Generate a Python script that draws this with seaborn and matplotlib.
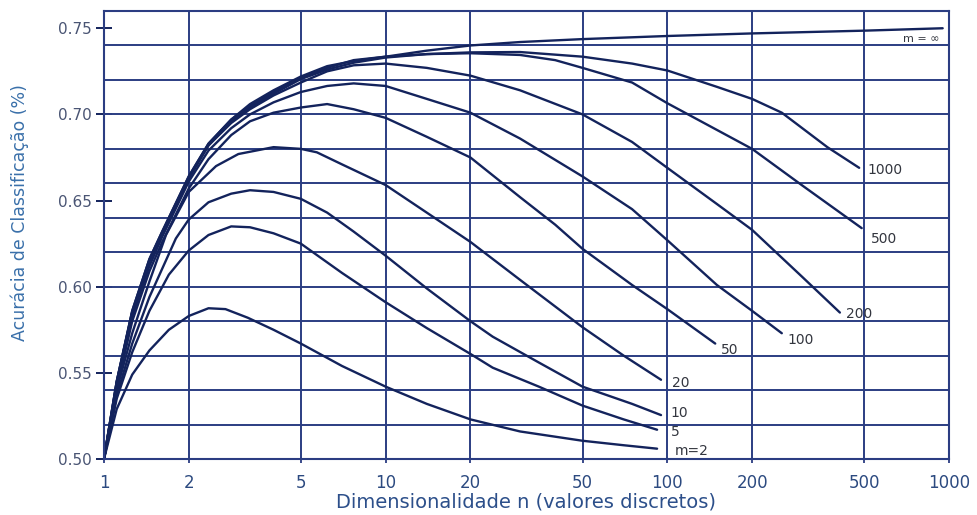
import matplotlib
matplotlib.use("Agg")
import matplotlib.pyplot as plt
from matplotlib.ticker import FixedLocator, FixedFormatter, NullLocator
import numpy as np
import pandas as pd
import seaborn as sns

# Classification accuracy versus dimensionality n for several training-set sizes m
n_inf = [1, 1.11, 1.26, 1.45, 1.61, 2, 2.35, 2.83, 3.3, 4, 5, 6.2, 7.7, 10, 14, 20, 30, 50, 100, 200, 500, 950]
acc_inf = [0.500, 0.545, 0.586, 0.616, 0.632, 0.664, 0.683, 0.697, 0.706, 0.714, 0.722, 0.728, 0.731,
           0.7335, 0.737, 0.740, 0.742, 0.7437, 0.7455, 0.747, 0.7486, 0.750]

n_m1000 = [1, 1.11, 1.26, 1.45, 1.61, 2, 2.35, 2.83, 3.3, 4, 5, 6.2, 7.7, 10, 14, 20, 30, 50, 75, 100,
           150, 200, 255, 370, 480]
acc_m1000 = [0.500, 0.545, 0.586, 0.616, 0.632, 0.664, 0.683, 0.697, 0.705, 0.713, 0.721, 0.727, 0.7315,
             0.7335, 0.735, 0.736, 0.7362, 0.7335, 0.7295, 0.7255, 0.716, 0.709, 0.701, 0.681, 0.669]

n_m500 = [1, 1.11, 1.26, 1.45, 1.61, 2, 2.35, 2.83, 3.3, 4, 5, 6.2, 7.7, 10, 14, 20, 30, 40, 50, 75, 100,
          150, 200, 300, 490]
acc_m500 = [0.500, 0.545, 0.585, 0.615, 0.631, 0.663, 0.682, 0.696, 0.704, 0.712, 0.7205, 0.726, 0.730,
            0.733, 0.735, 0.7355, 0.7345, 0.7315, 0.727, 0.7185, 0.7065, 0.691, 0.680, 0.659, 0.634]

n_m200 = [1, 1.11, 1.26, 1.45, 1.61, 2, 2.35, 2.83, 3.3, 4, 5, 6.2, 7.7, 10, 14, 20, 30, 50, 75, 100,
          150, 200, 300, 410]
acc_m200 = [0.500, 0.544, 0.585, 0.615, 0.631, 0.663, 0.682, 0.695, 0.703, 0.711, 0.7185, 0.725, 0.7285,
            0.7295, 0.727, 0.7225, 0.714, 0.700, 0.684, 0.669, 0.648, 0.633, 0.606, 0.585]

n_m100 = [1, 1.11, 1.26, 1.45, 1.61, 2, 2.35, 2.83, 3.3, 4, 5, 6.2, 7.7, 10, 14, 20, 30, 50, 75, 100,
          150, 200, 255]
acc_m100 = [0.500, 0.543, 0.583, 0.612, 0.629, 0.661, 0.679, 0.692, 0.700, 0.707, 0.713, 0.7165, 0.718,
            0.7165, 0.709, 0.701, 0.686, 0.664, 0.645, 0.627, 0.601, 0.586, 0.573]

n_m50 = [1, 1.11, 1.26, 1.45, 1.61, 2, 2.35, 2.83, 3.3, 4, 5, 6.2, 7.7, 10, 14, 20, 30, 40, 50, 75, 100, 148]
acc_m50 = [0.500, 0.541, 0.580, 0.609, 0.626, 0.657, 0.674, 0.688, 0.696, 0.701, 0.704, 0.706, 0.703,
           0.698, 0.687, 0.675, 0.652, 0.636, 0.622, 0.601, 0.587, 0.567]

n_m20 = [1, 1.11, 1.26, 1.45, 1.66, 2, 2.5, 3, 4, 5, 5.7, 7, 10, 14, 20, 30, 50, 70, 95]
acc_m20 = [0.500, 0.540, 0.573, 0.603, 0.630, 0.655, 0.670, 0.677, 0.681, 0.680, 0.678, 0.671, 0.659,
           0.643, 0.626, 0.604, 0.5765, 0.560, 0.546]

n_m10 = [1, 1.11, 1.26, 1.45, 1.8, 2, 2.35, 2.83, 3.3, 4, 5, 6.2, 7.7, 10, 14, 20, 24, 35, 50, 75, 95]
acc_m10 = [0.500, 0.537, 0.567, 0.594, 0.628, 0.639, 0.649, 0.654, 0.656, 0.655, 0.651, 0.643, 0.632,
           0.618, 0.599, 0.580, 0.571, 0.556, 0.542, 0.532, 0.5255]

n_m5 = [1, 1.11, 1.26, 1.45, 1.7, 2, 2.35, 2.83, 3.3, 4, 5, 7, 10, 14, 20, 24, 35, 50, 70, 92]
acc_m5 = [0.500, 0.535, 0.562, 0.586, 0.607, 0.621, 0.630, 0.635, 0.6345, 0.631, 0.625, 0.608, 0.591,
          0.576, 0.561, 0.553, 0.542, 0.531, 0.523, 0.517]

n_m2 = [1, 1.11, 1.26, 1.45, 1.7, 2, 2.35, 2.7, 3.24, 4, 5, 7, 10, 14, 20, 30, 50, 70, 92]
acc_m2 = [0.500, 0.529, 0.549, 0.563, 0.575, 0.583, 0.5875, 0.587, 0.582, 0.575, 0.567, 0.554, 0.542,
          0.532, 0.523, 0.516, 0.5106, 0.508, 0.506]

curve_labels = ["m = \u221e", "1000", "500", "200", "100", "50", "20", "10", "5", "m=2"]
curve_n = [n_inf, n_m1000, n_m500, n_m200, n_m100, n_m50, n_m20, n_m10, n_m5, n_m2]
curve_acc = [acc_inf, acc_m1000, acc_m500, acc_m200, acc_m100, acc_m50, acc_m20, acc_m10, acc_m5, acc_m2]

x_ticks = [1, 2, 5, 10, 20, 50, 100, 200, 500, 1000]
x_tick_labels = ["1", "2", "5", "10", "20", "50", "100", "200", "500", "1000"]
y_ticks = [0.50, 0.55, 0.60, 0.65, 0.70, 0.75]
y_tick_labels = ["0.50", "0.55", "0.60", "0.65", "0.70", "0.75"]
y_grid = [0.50, 0.52, 0.54, 0.56, 0.58, 0.60, 0.62, 0.64, 0.66, 0.68, 0.70, 0.72, 0.74, 0.76]

# long-form table, one unit per curve
df = pd.concat(
    [pd.DataFrame({"curve": lab, "n": n, "acc": a}) for lab, n, a in zip(curve_labels, curve_n, curve_acc)],
    ignore_index=True,
)

sns.set_style("white")
plt.rcParams["font.family"] = ["DejaVu Sans"]

NAVY = "#13235c"
GRID = "#2b3d82"

fig = plt.figure(figsize=(9.78, 5.15), dpi=100)
ax = fig.add_axes([0.1063, 0.1087, 0.8640, 0.8699])

sns.lineplot(data=df, x="n", y="acc", units="curve", estimator=None, sort=False,
             color=NAVY, lw=1.7, ax=ax, legend=False)

ax.set_xscale("log")
ax.set_xlim(1, 1000)
ax.set_ylim(0.50, 0.76)

ax.xaxis.set_major_locator(FixedLocator(x_ticks))
ax.xaxis.set_major_formatter(FixedFormatter(x_tick_labels))
ax.xaxis.set_minor_locator(NullLocator())
ax.yaxis.set_major_locator(FixedLocator(y_ticks))
ax.yaxis.set_major_formatter(FixedFormatter(y_tick_labels))
ax.yaxis.set_minor_locator(FixedLocator(y_grid))
ax.yaxis.remove_overlapping_locs = False

ax.set_axisbelow(True)
ax.xaxis.grid(True, which="major", color=GRID, lw=1.4)
ax.yaxis.grid(True, which="minor", color=GRID, lw=1.4)
ax.yaxis.grid(False, which="major")

for side in ["left", "right", "top", "bottom"]:
    ax.spines[side].set_color(GRID)
    ax.spines[side].set_linewidth(1.5)

ax.tick_params(axis="y", which="major", left=True, direction="inout", length=12, width=1.4, color=NAVY,
               labelsize=11, labelcolor="#4a5574", pad=3)
ax.tick_params(axis="y", which="minor", left=False, length=0)
ax.tick_params(axis="x", which="major", bottom=True, direction="out", length=3, width=1.3, color=GRID,
               labelsize=12, labelcolor="#2c4a80", pad=8)

ax.set_xlabel("Dimensionalidade n (valores discretos)", fontsize=14, color="#2c4f8a", labelpad=0)
ax.set_ylabel("Acur\u00e1cia de Classifica\u00e7\u00e3o (%)", fontsize=12.5, color="#3a70aa")
ax.yaxis.set_label_coords(-0.089, 0.55)

# curve names next to the end of each curve
offsets = [(-2, -8, "right"), (6, -1.5, "left"), (6.5, -8, "left"), (4.3, -0.7, "left"),
           (4.3, -5, "left"), (4.3, -4.3, "left"), (8, -2, "left"), (7, 1.4, "left"),
           (10, -1.4, "left"), (13, -1.4, "left")]
for lab, n, a, (dx, dy, ha) in zip(curve_labels, curve_n, curve_acc, offsets):
    size = 8 if lab.startswith("m = ") else 10
    ax.annotate(lab, xy=(n[-1], a[-1]), xytext=(dx, dy), textcoords="offset points",
                ha=ha, va="center", fontsize=size, color="#33363f")

fig.savefig("out.png", dpi=100, facecolor="white")
